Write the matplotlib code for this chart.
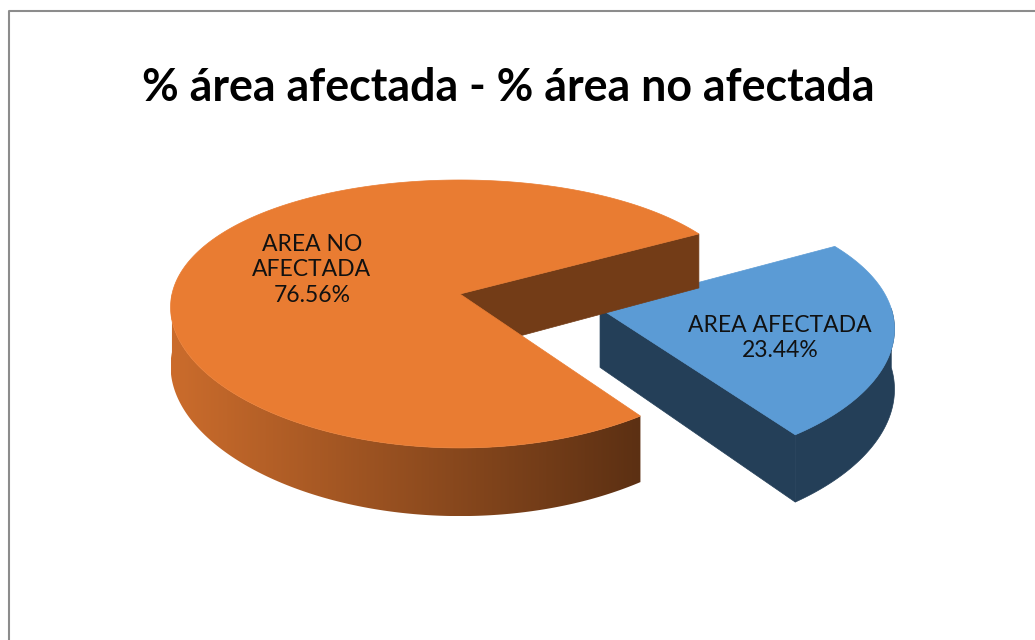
import numpy as np
import matplotlib
matplotlib.use("Agg")
import matplotlib.pyplot as plt
from matplotlib.patches import Polygon
from matplotlib.colors import LinearSegmentedColormap, to_rgb

# ---- data ----
categories = ["AREA AFECTADA", "AREA NO AFECTADA"]
values = [23.44, 76.56]
label_texts = ["AREA AFECTADA\n23.44%", "AREA NO\nAFECTADA\n76.56%"]
title = "% área afectada - % área no afectada"

# ---- styling / layout ----
W, H = 1035, 640
top_colors = ["#5B9BD5", "#E97C32"]
side_light = ["#243F58", "#CB6C2C"]
side_dark = ["#243F58", "#5C3013"]
cut_colors = ["#243F58", "#733C17"]
explode = [0.493, 0.0]
start_angle = 29.5          # degrees, slices go clockwise
cx, cy = 460.0, 294.0
rx, ry, kx, ky, D = 288.0, 131.0, 0.10, 0.149, 58.0

fig = plt.figure(figsize=(W / 100, H / 100), dpi=100)
ax = fig.add_axes([0, 0, 1, 1])
ax.set_xlim(0, W)
ax.set_ylim(H, 0)
ax.axis("off")

# chart border (top and left lines visible)
ax.plot([8.5, 8.5, W], [H, 10.5, 10.5], color="#8C8C8C", lw=1.5, zorder=1)


def proj(u, v, h):
    wx = 1 + kx * v
    wy = 1 + ky * v
    return cx + rx * u / wx, cy - ry * v / wy + D * h / wy


def gradient_fill(poly_xy, c_left, c_right, z):
    poly = Polygon(poly_xy, closed=True, facecolor="none", edgecolor="none", zorder=z)
    ax.add_patch(poly)
    xs = poly_xy[:, 0]
    x0, x1 = xs.min(), xs.max()
    ys = poly_xy[:, 1]
    cmap = LinearSegmentedColormap.from_list("g", [to_rgb(c_left), to_rgb(c_right)])
    grad = np.linspace(0, 1, 256)[None, :]
    im = ax.imshow(grad, cmap=cmap, extent=[x0, x1, ys.max(), ys.min()],
                   aspect="auto", zorder=z, interpolation="bilinear")
    im.set_clip_path(poly)


fracs = np.array(values) / np.sum(values)
a_end = start_angle
z = 2
for i, f in enumerate(fracs):
    a1 = a_end                     # ccw end
    a0 = a_end - 360 * f           # ccw start
    a_end = a0
    mid = np.radians((a0 + a1) / 2)
    ou, ov = explode[i] * np.cos(mid), explode[i] * np.sin(mid)

    ang = np.radians(np.linspace(a0, a1, 400))
    uu = ou + np.cos(ang)
    vv = ov + np.sin(ang)

    # outer side, visible where facing the viewer (sin < 0)
    vis = np.sin(ang) < 0
    if vis.any():
        idx = np.where(vis)[0]
        runs = np.split(idx, np.where(np.diff(idx) != 1)[0] + 1)
        for r in runs:
            tx, ty = proj(uu[r], vv[r], 0)
            bx, by = proj(uu[r], vv[r], 1)
            pts = np.column_stack([np.concatenate([tx, bx[::-1]]),
                                   np.concatenate([ty, by[::-1]])])
            if side_light[i] == side_dark[i]:
                ax.add_patch(Polygon(pts, closed=True, facecolor=side_light[i],
                                     edgecolor=side_light[i], lw=0.5, zorder=z))
            else:
                gradient_fill(pts, side_light[i], side_dark[i], z)

    # cut faces
    for a, sgn in ((a0, -1), (a1, 1)):
        nrm = np.radians(a + sgn * 90)
        if np.sin(nrm) < 0:
            ar = np.radians(a)
            pu = np.array([ou, ou + np.cos(ar), ou + np.cos(ar), ou])
            pv = np.array([ov, ov + np.sin(ar), ov + np.sin(ar), ov])
            ph = np.array([0, 0, 1, 1])
            px, py = proj(pu, pv, ph)
            ax.add_patch(Polygon(np.column_stack([px, py]), closed=True,
                                 facecolor=cut_colors[i], edgecolor=cut_colors[i],
                                 lw=0.5, zorder=z))

    # top face
    tx, ty = proj(np.concatenate([[ou], uu]), np.concatenate([[ov], vv]), 0)
    ax.add_patch(Polygon(np.column_stack([tx, ty]), closed=True,
                         facecolor=top_colors[i], edgecolor=top_colors[i],
                         lw=0.5, zorder=z + 1))
    z += 3

# labels
label_xy = [(780, 338), (312, 270)]
for (lx, ly), t in zip(label_xy, label_texts):
    ax.text(lx, ly, t, ha="center", va="center", fontsize=16.5,
            family=["Lato", "DejaVu Sans"], color="#111111",
            linespacing=1.28, zorder=20)

ax.text(508, 88, title, ha="center", va="center", fontsize=32.2,
        fontweight="bold", family=["Lato", "DejaVu Sans"], color="black", zorder=20)

fig.savefig("out.png", dpi=100)
